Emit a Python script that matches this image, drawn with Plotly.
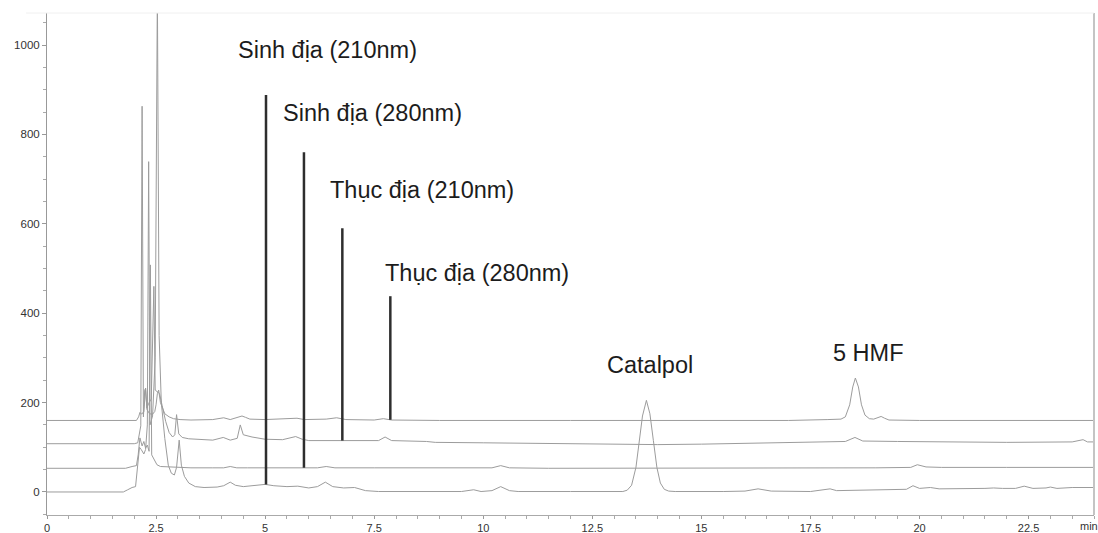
import numpy as np
import plotly.graph_objects as go

# ---------------- data ----------------
# retention time (min) and signal above each trace's own baseline (mAU)
s210_t = [0, 1.75, 1.85, 1.95, 2.03, 2.08, 2.12, 2.16, 2.22, 2.26, 2.3, 2.33, 2.36, 2.42, 2.48, 2.53,
          2.57, 2.62, 2.7, 2.78, 2.85, 2.92, 2.97, 3.03, 3.08, 3.15, 3.25, 3.4, 3.6, 3.9, 4.05, 4.2,
          4.32, 4.5, 4.8, 5.0, 5.2, 5.5, 5.75, 6.0, 6.2, 6.38, 6.55, 6.8, 7.05, 7.3, 7.6, 8.5, 9.5,
          9.78, 9.95, 10.2, 10.4, 10.6, 10.8, 12.0, 13.2, 13.3, 13.4, 13.5, 13.58, 13.65, 13.74, 13.82,
          13.9, 13.98, 14.06, 14.15, 14.25, 14.4, 15.5, 16.0, 16.3, 16.6, 17.5, 17.8, 17.95, 18.1,
          18.5, 19.5, 19.7, 19.85, 20.0, 20.25, 20.45, 21.5, 21.7, 21.9, 22.2, 22.4, 22.6, 22.9,
          23.0, 23.15, 23.5, 24.0]
s210_v = [0, 0, 5, 10, 12, 60, 100, 95, 85, 95, 150, 739, 150, 170, 300, 1120,
          350, 200, 120, 60, 42, 38, 55, 116, 60, 35, 20, 12, 10, 11, 14, 22,
          15, 12, 14, 17, 14, 12, 13, 9, 12, 22, 12, 9, 10, 3, 1, 1, 1,
          5, 1, 3, 12, 3, 1, 1, 1, 4, 15, 55, 110, 170, 205, 175,
          115, 55, 20, 6, 2, 1, 1, 2, 7, 2, 1, 4, 7, 3,
          4, 5, 6, 14, 8, 10, 7, 8, 9, 8, 8, 13, 8, 9,
          11, 8, 10, 10]

s280_t = [0, 1.8, 1.95, 2.05, 2.09, 2.13, 2.18, 2.22, 2.26, 2.3, 2.34, 2.37, 2.4, 2.45, 2.52, 2.6,
          2.8, 3.0, 3.3, 3.8, 4.05, 4.2, 4.35, 4.6, 5.0, 5.5, 6.2, 6.4, 6.6, 7.5, 9.0, 10.2, 10.4,
          10.6, 11.5, 13.5, 15, 17, 19.0, 19.8, 19.95, 20.15, 20.5, 22, 24]
s280_v = [0, 0, 4, 6, 30, 68, 50, 60, 45, 52, 38, 455, 30, 20, 8, 4,
          3, 2, 1, 1, 1, 4, 1, 1, 1, 1, 1, 4, 1, 1, 1, 1, 6,
          1, 0, 0, 0, 1, 1, 2, 8, 3, 2, 2, 2]

t210_t = [0, 2.0, 2.08, 2.12, 2.15, 2.18, 2.21, 2.24, 2.26, 2.29, 2.33, 2.39, 2.45, 2.48, 2.53, 2.58,
          2.64, 2.72, 2.8, 2.88, 2.93, 2.97, 3.02, 3.1, 3.25, 3.5, 3.8, 4.04, 4.2, 4.36, 4.43, 4.5,
          4.7, 5.0, 5.4, 5.7, 5.85, 6.0, 6.5, 7.6, 7.75, 7.9, 8.7, 8.9, 10, 11, 12.5, 14, 15, 16.5,
          17.5, 18.3, 18.52, 18.7, 19.5, 21, 22, 23.5, 23.75, 23.85, 24]
t210_v = [0, 0, 2, 30, 40, 755, 60, 120, 124, 80, 90, 100, 352, 120, 116, 112,
          85, 50, 25, 15, 20, 65, 22, 14, 11, 9, 8, 14, 8, 12, 42, 20,
          15, 10, 9, 16, 10, 7, 7, 7, 15, 7, 5, 3, 2, 1, -1, -2, -1, 2,
          4, 5, 14, 6, 5, 4, 3, 4, 9, 4, 4]

t280_t = [0, 2.05, 2.1, 2.13, 2.17, 2.22, 2.26, 2.29, 2.35, 2.42, 2.47, 2.5, 2.53, 2.56, 2.6, 2.7,
          2.8, 2.9, 3.05, 3.3, 3.8, 4.05, 4.2, 4.4, 4.47, 4.55, 4.65, 5.0, 5.5, 5.73, 5.9, 6.4,
          6.64, 6.85, 7.5, 7.71, 7.9, 9, 12, 15, 17.0, 17.9, 18.2, 18.3, 18.4, 18.47, 18.53, 18.6,
          18.67, 18.75, 18.85, 18.95, 19.05, 19.12, 19.2, 19.3, 20, 22, 24]
t280_v = [0, 0, 8, 18, 14, 20, 72, 25, 15, 14, 20, 35, 60, 68, 40, 15,
          8, 4, 2, 1, 2, 6, 2, 7, 10, 7, 3, 2, 3, 5, 2, 3,
          6, 2, 1, 4, 1, 0, 0, 0, 0, 2, 3, 8, 35, 75, 95, 75,
          35, 12, 4, 3, 6, 9, 5, 1, 0, 0, 0]

# vertical offsets of the stacked traces (mAU)
trace_offsets = [0, 53, 108, 160]

# sample labels and their pointer lines
sample_labels = ["Sinh địa (210nm)", "Sinh địa (280nm)", "Thục địa (210nm)", "Thục địa (280nm)"]
pointer_x = [5.02, 5.89, 6.77, 7.87]
pointer_top = [888, 760, 590, 438]

# compound labels
compound_labels = ["Catalpol", "5 HMF"]

x_tick_vals = [0, 2.5, 5, 7.5, 10, 12.5, 15, 17.5, 20, 22.5]
x_tick_text = ["0", "2.5", "5", "7.5", "10", "12.5", "15", "17.5", "20", "22.5"]
y_tick_vals = [0, 200, 400, 600, 800, 1000]

# ---------------- figure ----------------
series = [(s210_t, s210_v), (s280_t, s280_v), (t210_t, t210_v), (t280_t, t280_v)]

fig = go.Figure()
for (t, v), off in zip(series, trace_offsets):
    fig.add_trace(go.Scatter(x=t, y=np.array(v, dtype=float) + off, mode="lines",
                             line=dict(color="#9c9c9c", width=1), hoverinfo="skip",
                             showlegend=False))

for (t, v), off, px, top in zip(series, trace_offsets, pointer_x, pointer_top):
    bottom = float(np.interp(px, t, v)) + off
    fig.add_trace(go.Scatter(x=[px, px], y=[bottom, top], mode="lines",
                             line=dict(color="#2e2e2e", width=2.5), hoverinfo="skip",
                             showlegend=False))

label_font = dict(family="Liberation Sans, Arial, sans-serif", size=23.5, color="#1c1c1c")
sample_label_pos = [(6.44, 989), (7.45, 848), (8.6, 676), (9.86, 490)]
for txt, (lx, ly) in zip(sample_labels, sample_label_pos):
    fig.add_annotation(x=lx, y=ly, text=txt, showarrow=False, font=label_font,
                       xanchor="center", yanchor="middle")
compound_label_pos = [(13.83, 284), (18.83, 311)]
for txt, (lx, ly) in zip(compound_labels, compound_label_pos):
    fig.add_annotation(x=lx, y=ly, text=txt, showarrow=False, font=label_font,
                       xanchor="center", yanchor="middle")

y_tick_font = dict(family="Liberation Sans, Arial, sans-serif", size=11.5, color="#333333")
x_tick_font = dict(family="Liberation Sans, Arial, sans-serif", size=11, color="#333333")
fig.add_annotation(x=23.88, y=0, yref="paper", text="min", showarrow=False, font=x_tick_font,
                   xanchor="center", yanchor="top", yshift=-3)

fig.update_xaxes(range=[0, 24.0], tickmode="array", tickvals=x_tick_vals, ticktext=x_tick_text,
                 ticks="outside", ticklen=3, tickcolor="#999999", tickfont=x_tick_font,
                 showline=True, linecolor="#aaaaaa", linewidth=1, showgrid=False, zeroline=False,
                 automargin=False,
                 minor=dict(tickmode="linear", tick0=0, dtick=0.5, ticks="outside", ticklen=3,
                            tickcolor="#aaaaaa", showgrid=False))
fig.update_yaxes(range=[-51.5, 1071.6], tickmode="array", tickvals=y_tick_vals,
                 ticks="outside", ticklen=4, tickcolor="#999999", tickfont=y_tick_font,
                 showline=True, linecolor="#999999", linewidth=1, showgrid=False, zeroline=False,
                 automargin=False,
                 minor=dict(tickmode="linear", tick0=0, dtick=50, ticks="outside", ticklen=3,
                            tickcolor="#aaaaaa", showgrid=False))

fig.add_shape(type="line", xref="paper", yref="paper", x0=1, x1=1, y0=0, y1=1,
              line=dict(color="#c4c4c4", width=2))
fig.add_shape(type="line", xref="paper", yref="paper", x0=-0.02, x1=1, y0=1, y1=1,
              line=dict(color="#f0f0f0", width=1))

fig.update_layout(width=1098, height=533, margin=dict(l=47, r=4, t=13, b=18),
                  plot_bgcolor="white", paper_bgcolor="white", showlegend=False)

fig.write_html("out.html", config={"displayModeBar": False},
               post_script="document.body.style.margin='0';document.body.style.overflow='hidden';")
